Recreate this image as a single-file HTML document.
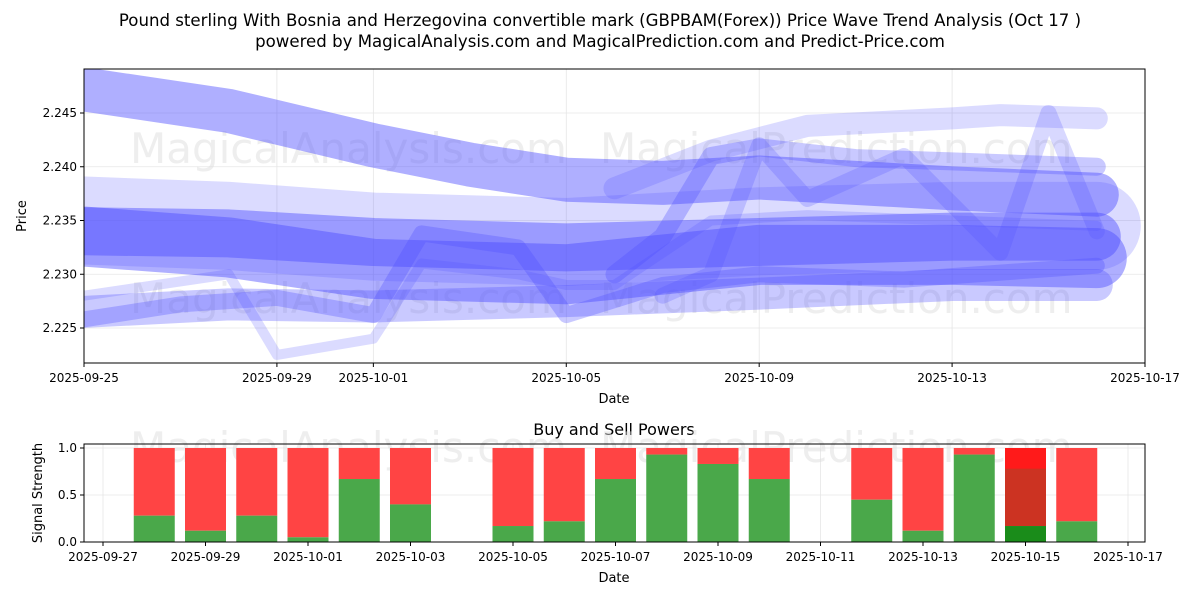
<!DOCTYPE html>
<html><head><meta charset="utf-8"><style>
body{margin:0;background:#fff;font-family:"Liberation Sans","DejaVu Sans",sans-serif;}
svg text{font-family:"DejaVu Sans","Liberation Sans",sans-serif;}
</style></head><body>
<svg id="chart" width="1200" height="600" xmlns="http://www.w3.org/2000/svg">
<text x="600" y="26" text-anchor="middle" font-size="16.6">Pound sterling With Bosnia and Herzegovina convertible mark (GBPBAM(Forex)) Price Wave Trend Analysis (Oct 17 )</text>
<text x="600" y="47" text-anchor="middle" font-size="16.6">powered by MagicalAnalysis.com and MagicalPrediction.com and Predict-Price.com</text>
<g id="topPanel"></g>
<g id="bottomPanel"></g>
</svg>
<script>
// ---- data ----
const priceTicks=[2.225,2.230,2.235,2.240,2.245];
const topDateTicks=["2025-09-25","2025-09-29","2025-10-01","2025-10-05","2025-10-09","2025-10-13","2025-10-17"];
const bandDates=[
 ["2025-09-25","2025-09-28","2025-10-01","2025-10-03","2025-10-05","2025-10-07","2025-10-09","2025-10-13","2025-10-16"],
 ["2025-09-25","2025-09-28","2025-10-01","2025-10-05","2025-10-09","2025-10-13","2025-10-16"],
 ["2025-09-25","2025-09-28","2025-10-01","2025-10-05","2025-10-09","2025-10-13","2025-10-16"],
 ["2025-09-25","2025-09-28","2025-10-01","2025-10-05","2025-10-09","2025-10-13","2025-10-16"],
 ["2025-09-25","2025-09-27","2025-09-29","2025-10-01","2025-10-02","2025-10-04","2025-10-05","2025-10-07","2025-10-09","2025-10-12","2025-10-16"],
 ["2025-10-06","2025-10-07","2025-10-08","2025-10-09","2025-10-11","2025-10-13","2025-10-16"],
 ["2025-10-06","2025-10-08","2025-10-10","2025-10-13","2025-10-14","2025-10-16"],
 ["2025-10-07","2025-10-08","2025-10-09","2025-10-10","2025-10-12","2025-10-14","2025-10-15","2025-10-16"],
 ["2025-09-25","2025-09-28","2025-09-29","2025-10-01","2025-10-02","2025-10-04","2025-10-05","2025-10-06","2025-10-08","2025-10-10","2025-10-16"],
 ["2025-09-25","2025-09-28","2025-10-01","2025-10-05","2025-10-09","2025-10-13","2025-10-16"]
];
const bandValues=[
 [2.2472,2.2452,2.2420,2.2402,2.2388,2.2385,2.2390,2.2380,2.2374],
 [2.2340,2.2338,2.2330,2.2325,2.2330,2.2335,2.2335],
 [2.2335,2.2325,2.2305,2.2300,2.2318,2.2318,2.2315],
 [2.2265,2.2272,2.2270,2.2275,2.2282,2.2290,2.2290],
 [2.2258,2.2272,2.2278,2.2262,2.2338,2.2325,2.2262,2.2290,2.2300,2.2295,2.2308],
 [2.2300,2.2335,2.2410,2.2418,2.2408,2.2405,2.2400],
 [2.2380,2.2415,2.2438,2.2445,2.2448,2.2445],
 [2.2280,2.2300,2.2420,2.2370,2.2410,2.2320,2.2450,2.2340],
 [2.2280,2.2300,2.2225,2.2240,2.2310,2.2300,2.2290,2.2290,2.2350,2.2355,2.2345],
 [2.2350,2.2345,2.2335,2.2330,2.2340,2.2345,2.2345]
];
const bandWidths=[44,48,60,32,16,18,22,16,10,88];
const bandOpacity=[0.45,0.45,0.45,0.3,0.3,0.3,0.2,0.22,0.2,0.2];
const sigDates=["2025-09-28","2025-09-29","2025-09-30","2025-10-01","2025-10-02","2025-10-03","2025-10-05","2025-10-06","2025-10-07","2025-10-08","2025-10-09","2025-10-10","2025-10-12","2025-10-13","2025-10-14","2025-10-15","2025-10-16"];
const buyPower=[0.28,0.12,0.28,0.05,0.67,0.40,0.17,0.22,0.67,0.93,0.83,0.67,0.45,0.12,0.93,0.17,0.22];
const sigTicks=[0,0.5,1.0];
const botDateTicks=["2025-09-27","2025-09-29","2025-10-01","2025-10-03","2025-10-05","2025-10-07","2025-10-09","2025-10-11","2025-10-13","2025-10-15","2025-10-17"];

const NS="http://www.w3.org/2000/svg";
function mk(tag,attrs,parent,text){const e=document.createElementNS(NS,tag);for(const k in attrs)e.setAttribute(k,attrs[k]);if(text!==undefined)e.textContent=text;parent.appendChild(e);return e;}
const dayNum=s=>Date.parse(s+"T00:00:00Z")/86400000;
const tx=d=>84+(dayNum(d)-dayNum("2025-09-25"))*(1061/22);
const ty=v=>328-(v-2.225)/0.005*53.75;
const topG=document.getElementById("topPanel");
mk("rect",{x:84,y:69,width:1061,height:294,fill:"#fff"},topG);
topDateTicks.forEach(d=>{const x=tx(d);
 mk("line",{x1:x,x2:x,y1:69,y2:363,stroke:"#e6e6e6","stroke-width":0.8},topG);
 mk("line",{x1:x,x2:x,y1:363,y2:367,stroke:"#000"},topG);
 let t=mk("text",{x:x,y:382,"text-anchor":"middle","font-size":12},topG,d);
 
 });
priceTicks.forEach(v=>{const y=ty(v);
 mk("line",{x1:84,x2:1145,y1:y,y2:y,stroke:"#e6e6e6","stroke-width":0.8},topG);
 mk("line",{x1:80,x2:84,y1:y,y2:y,stroke:"#000"},topG);
 let t=mk("text",{x:77,y:y+4,"text-anchor":"end","font-size":12},topG,v.toFixed(3));
 
 });
mk("text",{x:130,y:163,"font-size":42,fill:"#ddd","fill-opacity":0.5},topG,"MagicalAnalysis.com");
mk("text",{x:600,y:163,"font-size":42,fill:"#ddd","fill-opacity":0.5},topG,"MagicalPrediction.com");
mk("text",{x:130,y:313,"font-size":42,fill:"#ddd","fill-opacity":0.5},topG,"MagicalAnalysis.com");
mk("text",{x:600,y:313,"font-size":42,fill:"#ddd","fill-opacity":0.5},topG,"MagicalPrediction.com");
const clip=mk("clipPath",{id:"tc"},topG);mk("rect",{x:84,y:69,width:1061,height:294},clip);
const bg=mk("g",{"clip-path":"url(#tc)"},topG);
bandValues.forEach((vals,i)=>{
 const pts=vals.map((v,j)=>tx(bandDates[i][j]).toFixed(1)+","+ty(v).toFixed(1)).join(" ");
 const p=mk("polyline",{points:pts,fill:"none",stroke:"#4d4dff","stroke-opacity":bandOpacity[i],"stroke-width":bandWidths[i],"stroke-linejoin":"round","stroke-linecap":"round"},bg);
 
 
});
mk("rect",{x:84,y:69,width:1061,height:294,fill:"none",stroke:"#000","stroke-width":1},topG);
mk("text",{x:614,y:403,"text-anchor":"middle","font-size":13},topG,"Date");
mk("text",{x:26,y:216,"text-anchor":"middle","font-size":13,transform:"rotate(-90 26 216)"},topG,"Price");

const bx=d=>103+(dayNum(d)-dayNum("2025-09-27"))*(1025/20);
const by=v=>542-v*94;
const botG=document.getElementById("bottomPanel");
mk("text",{x:614,y:435,"text-anchor":"middle","font-size":16},botG,"Buy and Sell Powers");
botDateTicks.forEach(d=>{const x=bx(d);
 mk("line",{x1:x,x2:x,y1:444,y2:542,stroke:"#e6e6e6","stroke-width":0.8},botG);
 mk("line",{x1:x,x2:x,y1:542,y2:546,stroke:"#000"},botG);
 let t=mk("text",{x:x,y:561,"text-anchor":"middle","font-size":12},botG,d);
 
 });
sigTicks.forEach(v=>{const y=by(v);
 mk("line",{x1:84,x2:1145,y1:y,y2:y,stroke:"#e6e6e6","stroke-width":0.8},botG);
 mk("line",{x1:80,x2:84,y1:y,y2:y,stroke:"#000"},botG);
 let t=mk("text",{x:77,y:y+4,"text-anchor":"end","font-size":12},botG,v.toFixed(1));
 
 });
mk("text",{x:130,y:462,"font-size":42,fill:"#ddd","fill-opacity":0.5},botG,"MagicalAnalysis.com");
mk("text",{x:600,y:462,"font-size":42,fill:"#ddd","fill-opacity":0.5},botG,"MagicalPrediction.com");
const bw=0.8*1025/20;
sigDates.forEach((d,i)=>{const x=bx(d)-bw/2;const b=buyPower[i];
 const special=d==="2025-10-15";
 const r=mk("rect",{x:x,y:by(1),width:bw,height:by(b)-by(1),fill:special?"#ff1a1a":"#ff4444"},botG);
 
 
 if(special){mk("rect",{x:x,y:by(0.78),width:bw,height:by(b)-by(0.78),fill:"#cc3322"},botG);}
 const g=mk("rect",{x:x,y:by(b),width:bw,height:by(0)-by(b),fill:special?"#1a8c1a":"#4aa84a"},botG);
 
 
});
mk("rect",{x:84,y:444,width:1061,height:98,fill:"none",stroke:"#000","stroke-width":1},botG);
mk("text",{x:614,y:582,"text-anchor":"middle","font-size":13},botG,"Date");
mk("text",{x:42,y:493,"text-anchor":"middle","font-size":13,transform:"rotate(-90 42 493)"},botG,"Signal Strength");
</script>
</body></html>
